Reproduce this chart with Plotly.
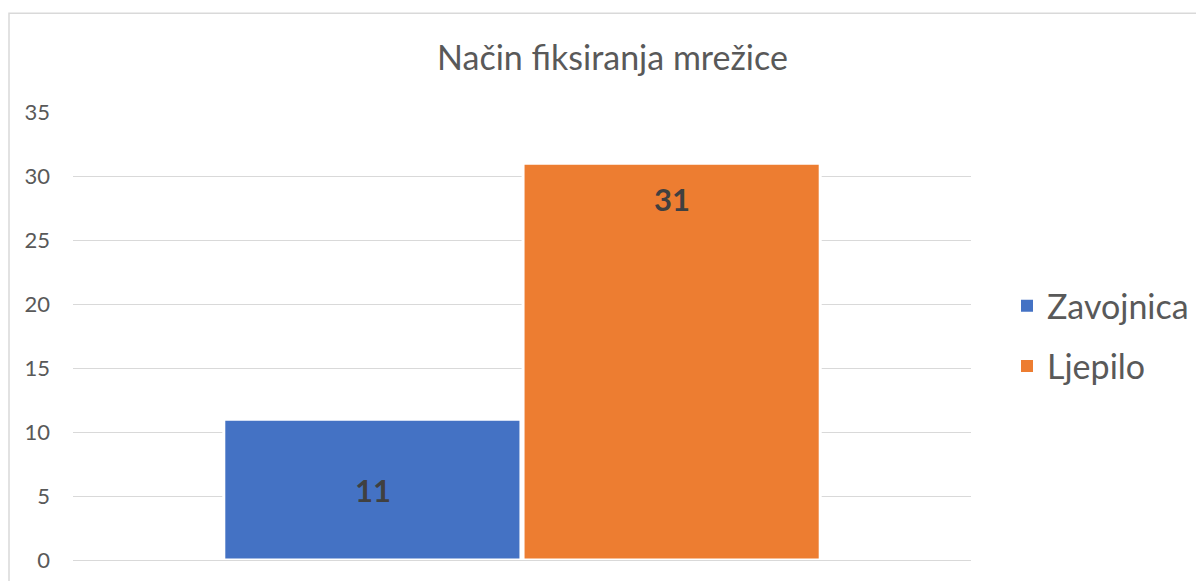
import plotly.graph_objects as go

categories = ["Način fiksiranja mrežice"]
series_names = ["Zavojnica", "Ljepilo"]
series_values = [11, 31]
series_colors = ["#4472C4", "#ED7D31"]
title_text = "Način fiksiranja mrežice"
y_ticks = [0, 5, 10, 15, 20, 25, 30, 35]

W, H = 1204, 581
OFF = 8  # page body margin offset
# reference pixel positions (page coords) converted to figure coords
px_left, px_right, px_top, px_bottom = 73 - OFF, 971 - OFF, 111.7 - OFF, 560 - OFF
ml, mr, mt, mb = px_left, W - px_right, px_top, H - px_bottom
pw = px_right - px_left
ph = px_bottom - px_top

def xp(px):
    return (px - OFF - px_left) / pw

def yp(py):
    return (px_bottom - (py - OFF)) / ph

FONT = "Lato, Carlito, sans-serif"

fig = go.Figure()
for i, (name, val, col) in enumerate(zip(series_names, series_values, series_colors)):
    # visible bar with thin white outline (as in the reference)
    fig.add_trace(go.Bar(
        x=categories, y=[val], name=name,
        marker=dict(color=col, line=dict(width=3, color="white")),
        offsetgroup=str(i), legendgroup=name, showlegend=False, hoverinfo="skip",
    ))
    # legend entry (no outline so the legend square is full size)
    fig.add_trace(go.Bar(
        x=categories, y=[None], name=name,
        marker=dict(color=col, line=dict(width=0)),
        offsetgroup=str(i), legendgroup=name, showlegend=True, hoverinfo="skip",
    ))

# data labels
label_font = dict(family=FONT, size=31, color="#404040")
shifts = [-149.5, 149.5]
for i, val in enumerate(series_values):
    if i == 0:
        y, ysh = val / 2, 0
    else:
        y, ysh = val, -36
    fig.add_annotation(
        x=categories[0], y=y, xref="x", yref="y", xshift=shifts[i], yshift=ysh,
        text=f"<b>{val}</b>", showarrow=False, font=label_font,
        xanchor="center", yanchor="middle",
    )

# chart border
fig.add_shape(
    type="rect", xref="paper", yref="paper",
    x0=xp(9), x1=xp(W + 30), y0=yp(H + 30), y1=yp(13),
    line=dict(color="#D9D9D9", width=1.5), fillcolor="rgba(0,0,0,0)", layer="below",
)

fig.update_layout(
    width=W, height=H,
    margin=dict(l=ml, r=mr, t=mt, b=mb, pad=0),
    paper_bgcolor="white", plot_bgcolor="white",
    font=dict(family=FONT, color="#595959"),
    title=dict(
        text=title_text, x=(612.5 - OFF) / W, xanchor="center", xref="container",
        y=1 - (58 - OFF) / H, yanchor="middle", yref="container",
        font=dict(size=34, color="#595959", family=FONT),
    ),
    barmode="group", bargap=0.3335, bargroupgap=0.007,
    showlegend=True,
    legend=dict(
        x=xp(1007), xanchor="left", y=yp(336), yanchor="middle",
        font=dict(size=34, color="#595959"),
        traceorder="grouped", tracegroupgap=13,
        bgcolor="rgba(0,0,0,0)", borderwidth=0,
    ),
    xaxis=dict(range=[-0.5, 0.5], showticklabels=False, showgrid=False,
               zeroline=False, showline=False, ticks=""),
    yaxis=dict(
        range=[0, 35], tickvals=y_ticks, ticktext=[str(t) for t in y_ticks],
        showgrid=True, gridcolor="#D9D9D9", gridwidth=1.3,
        zeroline=True, zerolinecolor="#D9D9D9", zerolinewidth=1.3,
        showline=False, ticks="", ticklabelstandoff=22,
        tickfont=dict(size=22, color="#595959"),
    ),
)

fig.write_html("out.html")
